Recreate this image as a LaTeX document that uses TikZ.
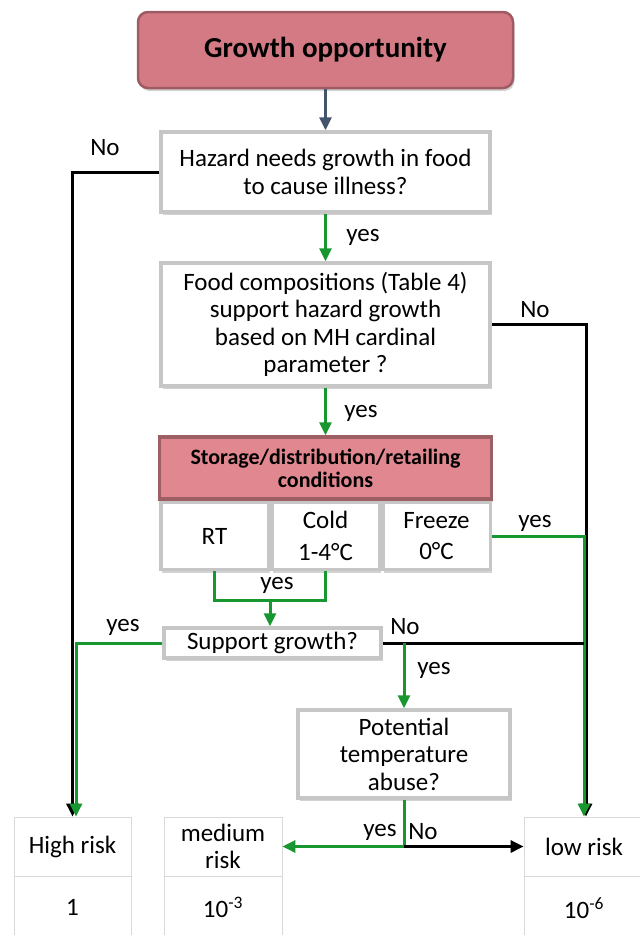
\documentclass[tikz,border=0pt]{standalone}
\usepackage{fontspec}
\setmainfont{Carlito}
\usepackage{xcolor}
\usepackage{tikz}
\usetikzlibrary{calc,positioning,arrows.meta,shadows}

\definecolor{growthpink}{RGB}{212,122,132}
\definecolor{storagepink}{RGB}{225,135,143}
\definecolor{yesgreen}{RGB}{24,150,48}
\definecolor{slatearrow}{RGB}{68,84,106}

\begin{document}
\begin{tikzpicture}[x=1pt, y=-1pt, align=center,
    font=\fontsize{25}{27.5}\selectfont,
    box/.style={draw=gray!45, line width=3.5pt, fill=white, inner sep=2pt,
        drop shadow={shadow xshift=1.5pt, shadow yshift=-3pt, opacity=0.35}},
    pink_box/.style={box, fill=storagepink, draw=storagepink!70!black,
        font=\fontsize{22}{23}\selectfont\bfseries},
    cell/.style={draw=gray!30, line width=0.8pt, minimum height=59pt, inner sep=0pt},
    yes_line/.style={draw=yesgreen, line width=3pt},
    no_line/.style={draw=black, line width=3pt},
    arrow_tip/.style={-{Triangle[length=13pt,width=12pt]}}]
    \useasboundingbox (0,0) rectangle (640,935);

    \node [box, fill=growthpink, draw=growthpink!75!black, line width=2.5pt, rounded corners=10pt, minimum width=375pt, minimum height=76pt, font=\fontsize{29}{31}\selectfont\bfseries] (growth) at (325.5,50) {Growth opportunity};
    \node [box, minimum width=329pt, minimum height=80pt, below=41pt of growth] (hazard) {Hazard needs growth in food\\to cause illness?};
    \node [box, minimum width=329pt, minimum height=123pt, below=47.5pt of hazard] (food) {Food compositions (Table 4)\\support hazard growth\\based on MH cardinal\\parameter ?};
    \node [pink_box, minimum width=332pt, minimum height=62pt, below=47.5pt of food] (storage) {Storage/distribution/retailing\\conditions};

    \node [box, minimum width=107.5pt, minimum height=67pt, below=0pt of storage] (cold) {Cold\\[4pt]1-4°C};
    \node [box, minimum width=107.5pt, minimum height=67pt, left=0pt of cold] (rt) {RT};
    \node [box, minimum width=107.5pt, minimum height=67pt, right=0pt of cold] (freeze) {Freeze\\[4pt]0°C};

    \node [box, minimum width=217pt, minimum height=30pt, inner sep=1pt] (support) at (272.5,643) {Support growth?};
    \node [box, minimum width=212pt, minimum height=88pt] (potential) at (404,754) {Potential\\temperature\\abuse?};

    \node [cell, minimum width=117pt] (high) at (72.5,846.5) {High risk};
    \node [cell, minimum width=117pt, minimum height=62pt, below=0pt of high] (high_value) {1};
    \node [cell, minimum width=118pt] (medium) at (223,846.5) {medium\\risk};
    \node [cell, minimum width=118pt, minimum height=62pt, below=0pt of medium] (medium_value) {10\textsuperscript{-3}};
    \node [cell, minimum width=120pt] (low) at (584,846.5) {low risk};
    \node [cell, minimum width=120pt, minimum height=62pt, below=0pt of low] (low_value) {10\textsuperscript{-6}};

    \coordinate (merge) at ($(rt.south)!0.5!(cold.south) + (0,29)$);
    \coordinate (split) at (potential.south |- medium.east);

    \draw [line width=3pt, draw=slatearrow, arrow_tip] (growth) -- (hazard);
    \draw [yes_line, arrow_tip] (hazard) -- (food);
    \draw [yes_line, arrow_tip] (food) -- (storage);

    \draw [no_line, arrow_tip] (hazard.west) -| (high.north);
    \draw [yes_line, arrow_tip] (support.west) -| ([xshift=3.5pt]high.north);
    \draw [no_line, arrow_tip] (food.east) -| ([xshift=2pt]low.north);
    \draw [yes_line, arrow_tip] (freeze.east) -| (low.north);

    \draw [yes_line] (rt.south) |- (merge) -| (cold.south);
    \draw [yes_line, arrow_tip] (merge) -- (merge |- support.north);

    \draw [no_line] (support.east) -- (support.east -| low.north);
    \draw [yes_line, arrow_tip] (support.east -| potential.north) -- (potential.north);

    \draw [yes_line, arrow_tip] (potential.south) -- (split) -- (medium.east);
    \draw [no_line, arrow_tip] (split) -- (low.west);

    \node (no_hazard) at (105,148) {No};
    \node (yes_hazard) at (363,237) {yes};
    \node (no_food) at (535,310) {No};
    \node (yes_food) at (361,413) {yes};
    \node (yes_freeze) at (535,523) {yes};
    \node (yes_merge) at (277,585) {yes};
    \node (yes_support) at (123,627) {yes};
    \node (no_support) at (405,627) {No};
    \node (yes_growth) at (434,670) {yes};
    \node (yes_abuse) at (380,832) {yes};
    \node (no_abuse) at (423,832) {No};
\end{tikzpicture}
\end{document}
